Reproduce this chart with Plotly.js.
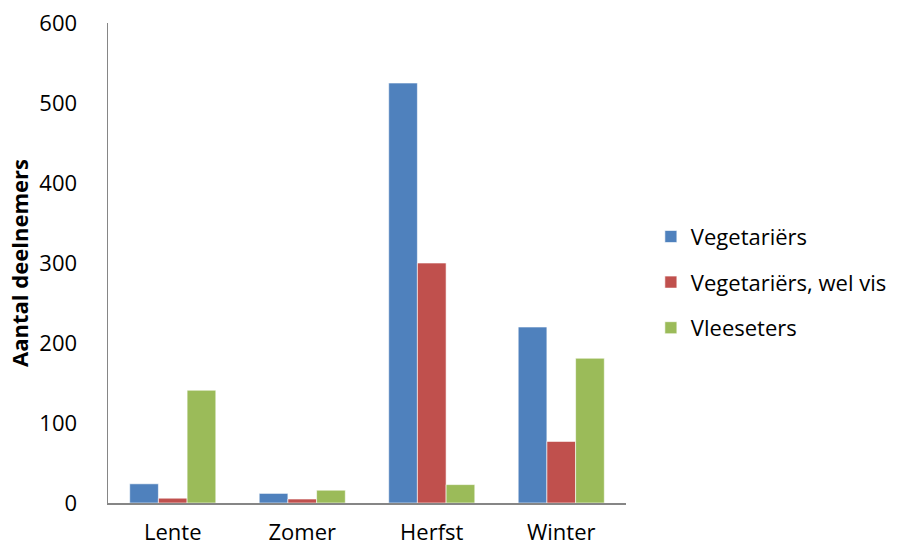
<!DOCTYPE html>
<html>
<head>
<meta charset="utf-8">
<script src="https://cdn.plot.ly/plotly-3.0.1.min.js"></script>
<style>html,body{margin:0;padding:0;background:#fff;}#chart{width:904px;height:546px;}</style>
</head>
<body>
<div id="chart"></div>
<script>
const categories = ["Lente", "Zomer", "Herfst", "Winter"];
const seriesNames = ["Vegetariërs", "Vegetariërs, wel vis", "Vleeseters"];
const vegetariers = [24, 12, 525, 220];
const vegetariersWelVis = [6, 5, 300, 77];
const vleeseters = [141, 16, 23, 181];
const colors = ["#4F81BD", "#C0504D", "#9BBB59"];
const yTicks = [0, 100, 200, 300, 400, 500, 600];

const font = "'Open Sans', 'Liberation Sans', sans-serif";
const allValues = [vegetariers, vegetariersWelVis, vleeseters];
const traces = allValues.map((vals, i) => ({
  type: "bar",
  name: seriesNames[i],
  x: categories,
  y: vals,
  legendgroup: "g" + i,
  marker: {color: colors[i], line: {color: "#ffffff", width: 0.6}},
  hoverinfo: "x+y+name"
}));

const layout = {
  width: 904, height: 546,
  margin: {l: 108, r: 276, t: 23, b: 43},
  paper_bgcolor: "#ffffff",
  plot_bgcolor: "#ffffff",
  barmode: "group",
  bargap: 0.335,
  bargroupgap: 0,
  font: {family: font, size: 22, color: "#000000"},
  xaxis: {
    type: "category",
    showline: true, linecolor: "#868686", linewidth: 1.5,
    showgrid: false, zeroline: false, ticks: "",
    ticklabelstandoff: 9,
    tickfont: {family: font, size: 22, color: "#000"}
  },
  yaxis: {
    range: [0, 600],
    tickvals: yTicks,
    ticktext: yTicks.map(String),
    showline: true, linecolor: "#868686", linewidth: 1.5,
    showgrid: false, zeroline: false, ticks: "",
    ticklabelstandoff: 25,
    tickfont: {family: font, size: 22, color: "#000"},
    title: {text: "<b>Aantal deelnemers</b>", font: {family: font, size: 22, color: "#000"}, standoff: 4}
  },
  legend: {
    x: 1.048, xanchor: "left", xref: "paper",
    y: 0.46, yanchor: "middle",
    font: {family: font, size: 22, color: "#000"},
    tracegroupgap: 14,
    itemwidth: 30,
    bgcolor: "rgba(0,0,0,0)"
  },
  showlegend: true
};

Plotly.newPlot("chart", traces, layout, {displayModeBar: false, staticPlot: true});
</script>
</body>
</html>
